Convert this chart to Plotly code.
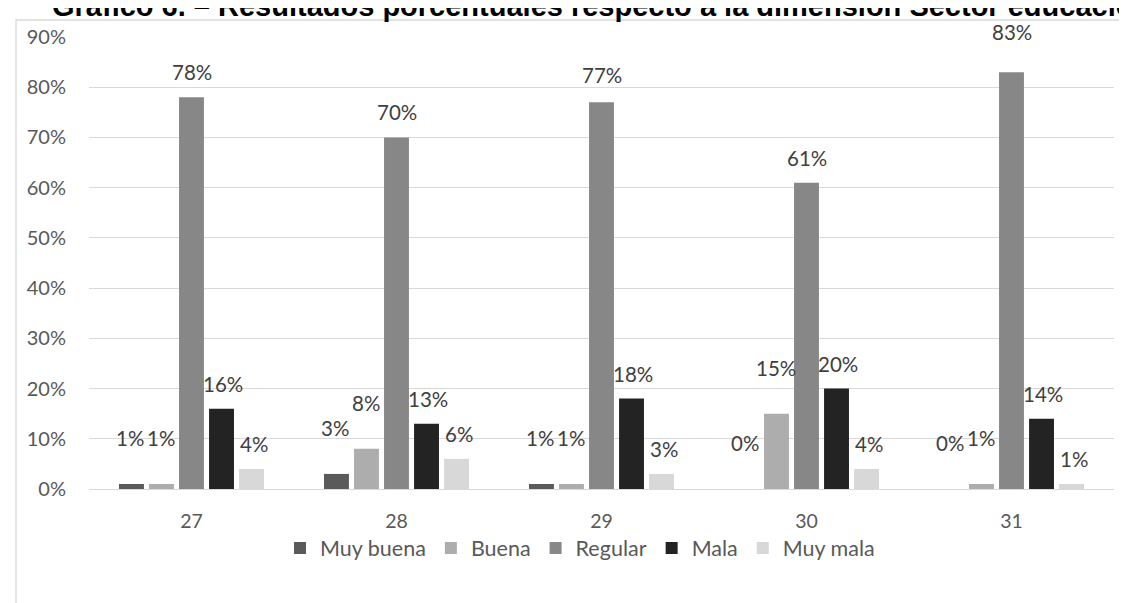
import plotly.graph_objects as go

categories = ["27", "28", "29", "30", "31"]
muy_buena = [0.01, 0.03, 0.01, 0.00, 0.00]
buena = [0.01, 0.08, 0.01, 0.15, 0.01]
regular = [0.78, 0.70, 0.77, 0.61, 0.83]
mala = [0.16, 0.13, 0.18, 0.20, 0.14]
muy_mala = [0.04, 0.06, 0.03, 0.04, 0.01]
y_ticks = [0, 0.1, 0.2, 0.3, 0.4, 0.5, 0.6, 0.7, 0.8, 0.9]

# label offsets above bar tops (px), style only
shift_mb = [46, 46, 46, 46, 46]
shift_b = [46, 46, 46, 46, 46]
shift_r = [25, 25, 27, 25, 40]
shift_m = [25, 25, 25, 25, 25]
shift_mm = [25, 25, 25, 25, 25]

series = [
    ("Muy buena", muy_buena, "#5a5a5a", shift_mb),
    ("Buena", buena, "#adadad", shift_b),
    ("Regular", regular, "#878787", shift_r),
    ("Mala", mala, "#232323", shift_m),
    ("Muy mala", muy_mala, "#d8d8d8", shift_mm),
]

FONT = "Lato"
TXT = "#595959"

fig = go.Figure()
for name, vals, color, _ in series:
    fig.add_trace(go.Bar(name=name, x=categories, y=vals, marker_color=color,
                         marker_line_width=0))

W, H = 1127, 603
L, R, T, B = 81, 21, 29, 122
pw, ph = W - L - R, H - T - B

ann = []
n = len(series)
for i, (name, vals, color, shifts) in enumerate(series):
    for j, v in enumerate(vals):
        ann.append(dict(x=j, y=v, xref="x", yref="y",
                        text=f"{round(v*100)}%", showarrow=False,
                        xshift=(i - (n - 1) / 2) * 31, yshift=shifts[j],
                        font=dict(family=FONT, size=20.5, color="#404040")))

ann.append(dict(x=(42 - L) / pw, y=1 + (T + 2) / ph,
                xref="paper", yref="paper", xanchor="left", yanchor="middle",
                text="<b>Gráfico 6. – Resultados porcentuales respecto a la dimensión Sector educación</b>",
                showarrow=False,
                font=dict(family="Liberation Sans", size=29, color="#000000")))

shapes = [dict(type="rect", xref="paper", yref="paper",
               x0=(8 - L) / pw, x1=(W + 20 - L) / pw,
               y0=-(B + 20) / ph, y1=1 + (T - 12) / ph,
               line=dict(color="#d9d9d9", width=1.3), fillcolor="rgba(0,0,0,0)",
               layer="below")]

fig.update_layout(
    width=W, height=H,
    margin=dict(l=L, r=R, t=T, b=B),
    paper_bgcolor="white", plot_bgcolor="white",
    barmode="group", bargap=0.268, bargroupgap=0.17,
    font=dict(family=FONT, size=19, color=TXT),
    showlegend=True,
    legend=dict(orientation="h", x=(572 - L) / pw, xanchor="center",
                y=-(540 - 481) / ph, yanchor="middle",
                font=dict(family=FONT, size=21.5, color=TXT),
                itemwidth=30, traceorder="normal"),
    annotations=ann, shapes=shapes,
)
fig.update_yaxes(range=[0, 0.9], tickvals=y_ticks, tickformat=".0%",
                 showgrid=True, gridcolor="#d9d9d9", gridwidth=1,
                 zeroline=False, showline=False, ticks="",
                 ticklabelstandoff=22,
                 tickfont=dict(family=FONT, size=20, color=TXT))
fig.update_xaxes(type="category", range=[-0.5, len(categories) - 0.5],
                 showline=True, linecolor="#d9d9d9", linewidth=1.3,
                 ticks="outside", ticklen=14, tickcolor="rgba(0,0,0,0)",
                 tickfont=dict(family=FONT, size=19.5, color=TXT))

fig.write_html("out.html")
